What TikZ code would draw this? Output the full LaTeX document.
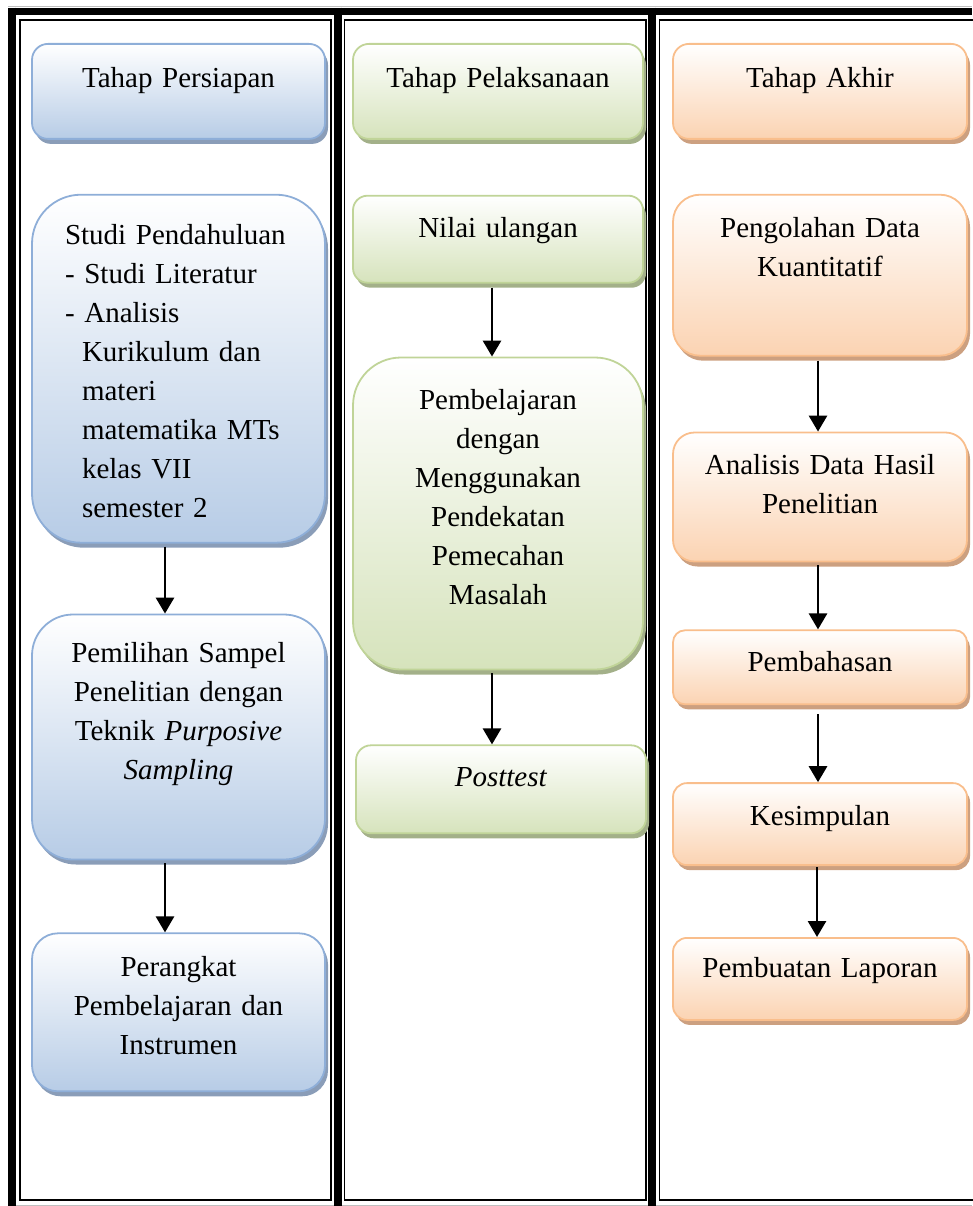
\documentclass[tikz,border=0pt]{standalone}
\usepackage{fontspec}
\setmainfont{Liberation Serif}
\usetikzlibrary{arrows.meta,positioning,shadows}
\definecolor{bline}{HTML}{8EAED8}
\definecolor{bfill}{HTML}{B7CCE6}
\definecolor{bshade}{HTML}{8A9DB8}
\definecolor{gline}{HTML}{C0D498}
\definecolor{gfill}{HTML}{D6E3BC}
\definecolor{gshade}{HTML}{A3B089}
\definecolor{oline}{HTML}{F9BE8C}
\definecolor{ofill}{HTML}{FBD3B2}
\definecolor{oshade}{HTML}{CCA080}
\tikzset{flow/.style={line width=2.8pt, -{Triangle[width=18pt,length=16pt]}},
  card/.style={rectangle, line width=1.8pt, inner xsep=8pt, inner ysep=0pt, align=center, anchor=north},
  blu/.style={card, draw=bline, top color=white, bottom color=bfill, text width=277pt,
    drop shadow={shadow xshift=3pt, shadow yshift=-5pt, fill=bshade, opacity=1}},
  grn/.style={card, draw=gline, top color=white, bottom color=gfill, text width=274pt,
    drop shadow={shadow xshift=3pt, shadow yshift=-5pt, fill=gshade, opacity=1}},
  org/.style={card, draw=oline, top color=white, bottom color=ofill, text width=278pt,
    drop shadow={shadow xshift=3pt, shadow yshift=-5pt, fill=oshade, opacity=1}},
  sz/.style n args={3}{text height=#1pt, text depth=#2pt, rounded corners=#3pt}}

\begin{document}
\begin{tikzpicture}[x=1pt, y=-1pt, font=\fontsize{29}{39}\selectfont]
  \useasboundingbox (0,0) rectangle (972,1206);
  % table frame
  \draw[gray!50, line width=1pt] (8,6.5) -- (972,6.5);
  \draw[gray!50, line width=1pt] (16,1205) -- (972,1205);
  \draw[line width=7.5pt] (8.25,11.5) -- (972,11.5);
  \foreach \x in {12,338,652}{\draw[line width=8pt] (\x,7.75) -- (\x,1206);}
  \draw[line width=1.8pt] (20,20) rectangle (331,1200);
  \draw[line width=1.8pt] (344.5,20) rectangle (646,1200);
  \draw[line width=1.8pt] (980,20) -| (659.5,1200) -- (980,1200);
  % tahap persiapan
  \node[blu, sz={44}{51}{16}] (h1) at (178.5,43) {Tahap Persiapan};
  \node[blu, sz={50}{298}{49}, below=54pt of h1, align=left, inner xsep=33pt, text width=227pt] (b1)
    {Studi Pendahuluan\\- Studi Literatur\\- Analisis\\\hspace*{17pt}Kurikulum dan\\\hspace*{17pt}materi\\
     \hspace*{17pt}matematika MTs\\\hspace*{17pt}kelas VII\\\hspace*{17pt}semester 2};
  \node[blu, sz={48}{197}{41}, below=70pt of b1] (b2)
    {Pemilihan Sampel\\Penelitian dengan\\Teknik \textit{Purposive}\\\textit{Sampling}};
  \node[blu, sz={43}{115}{26}, below=72pt of b2] (b3) {Perangkat\\Pembelajaran dan\\Instrumen};
  % tahap pelaksanaan
  \node[grn, sz={44}{51}{16}] (h2) at (498,43) {Tahap Pelaksanaan};
  \node[grn, sz={42}{45}{14.5}, below=55pt of h2] (c1) {Nilai ulangan};
  \node[grn, sz={52}{260}{48}, below=73pt of c1] (c2)
    {Pembelajaran\\dengan\\Menggunakan\\Pendekatan\\Pemecahan\\Masalah};
  \node[grn, sz={41}{47}{15}, below=74pt of c2, xshift=3pt] (c3) {\textit{Posttest}};
  % tahap akhir
  \node[org, sz={44}{51}{16}] (h3) at (820,43) {Tahap Akhir};
  \node[org, sz={43}{118}{27}, below=54pt of h3] (d1) {Pengolahan Data\\Kuantitatif};
  \node[org, sz={42}{87}{21.5}, below=75pt of d1] (d2) {Analisis Data Hasil\\Penelitian};
  \node[org, sz={41}{33}{12}, below=67pt of d2] (d3) {Pembahasan};
  \node[org, sz={42}{40}{14}, below=77pt of d3] (d4) {Kesimpulan};
  \node[org, sz={40}{42}{14}, below=71pt of d4] (d5) {Pembuatan Laporan};
  % arrows
  \draw[flow] ([xshift=-13.5pt,yshift=-3pt]b1.south) -- ([xshift=-13.5pt]b2.north);
  \draw[flow] ([xshift=-13.5pt,yshift=-3pt]b2.south) -- ([xshift=-13.5pt]b3.north);
  \draw[flow] ([xshift=-6pt,yshift=-4pt]c1.south) -- ([xshift=-6pt]c2.north);
  \draw[flow] ([xshift=-6pt,yshift=-3pt]c2.south) -- ([xshift=-9pt]c3.north);
  \draw[flow] ([xshift=-2pt,yshift=-4pt]d1.south) -- ([xshift=-2pt]d2.north);
  \draw[flow] ([xshift=-2pt,yshift=-3pt]d2.south) -- ([xshift=-2pt]d3.north);
  \draw[flow] ([xshift=-2pt,yshift=-9pt]d3.south) -- ([xshift=-2pt]d4.north);
  \draw[flow] ([xshift=-3pt,yshift=-1pt]d4.south) -- ([xshift=-3pt]d5.north);
\end{tikzpicture}
\end{document}
